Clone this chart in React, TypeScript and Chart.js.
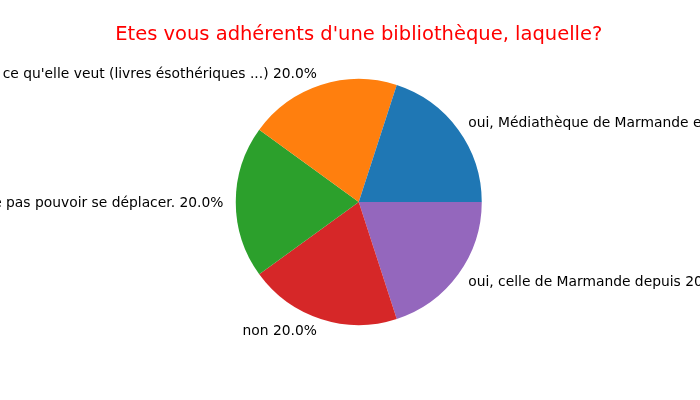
import React, { useEffect, useRef } from "react";
import { Chart, registerables } from "chart.js";

Chart.register(...registerables);

const titleText = "Etes vous adhérents d'une bibliothèque, laquelle?";
const categories = [
  "oui, Médiathèque de Marmande et de Tonneins",
  "non, elle n'a pas ce qu'elle veut (livres ésothériques ...)",
  "non, peur de ne pas pouvoir se déplacer.",
  "non",
  "oui, celle de Marmande depuis 2010",
];
const counts = [1, 1, 1, 1, 1];
const colors = ["#1f77b4", "#ff7f0e", "#2ca02c", "#d62728", "#9467bd"];

const labelPlugin = {
  id: "mplLabels",
  afterDraw(chart: any) {
    const ctx = chart.ctx;
    const meta = chart.getDatasetMeta(0);
    const data: number[] = chart.data.datasets[0].data;
    const total = data.reduce((a, b) => a + b, 0);
    ctx.save();
    ctx.font = "13.85px 'DejaVu Sans'";
    ctx.fillStyle = "#000000";
    ctx.textBaseline = "middle";
    meta.data.forEach((arc: any, i: number) => {
      const mid = (arc.startAngle + arc.endAngle) / 2;
      const r = arc.outerRadius * 1.1;
      const x = arc.x + Math.cos(mid) * r;
      const y = arc.y + Math.sin(mid) * r;
      const pct = ((data[i] / total) * 100).toFixed(1) + "%";
      ctx.textAlign = Math.cos(mid) > 0 ? "left" : "right";
      ctx.fillText(chart.data.labels[i] + " " + pct, x, y + 1);
    });
    ctx.font = "19.5px 'DejaVu Sans'";
    ctx.fillStyle = "#ff0000";
    ctx.textAlign = "center";
    ctx.textBaseline = "alphabetic";
    const ca = chart.chartArea;
    ctx.fillText(titleText, (ca.left + ca.right) / 2, 40);
    ctx.restore();
  },
};

export default function App() {
  const ref = useRef<HTMLCanvasElement | null>(null);
  useEffect(() => {
    if (!ref.current) return;
    // matplotlib draws counter-clockwise from east; Chart.js draws clockwise, so reverse
    const labels = [...categories].reverse();
    const values = [...counts].reverse();
    const bg = [...colors].reverse();
    const chart = new Chart(ref.current, {
      type: "pie",
      data: {
        labels,
        datasets: [
          {
            data: values,
            backgroundColor: bg,
            borderWidth: 0,
            hoverOffset: 0,
            offset: 0,
          },
        ],
      },
      options: {
        animation: false,
        responsive: false,
        rotation: 90,
        layout: { padding: { top: 79, bottom: 75, left: 87.5, right: 70 } },
        plugins: {
          legend: { display: false },
          tooltip: { enabled: false },
          title: { display: false },
        },
      },
      plugins: [labelPlugin],
    });
    return () => chart.destroy();
  }, []);
  return (
    <div style={{ position: "absolute", left: 0, top: 0, width: 700, height: 400, background: "#fff" }}>
      <canvas ref={ref} width={700} height={400} style={{ width: 700, height: 400 }} />
    </div>
  );
}
